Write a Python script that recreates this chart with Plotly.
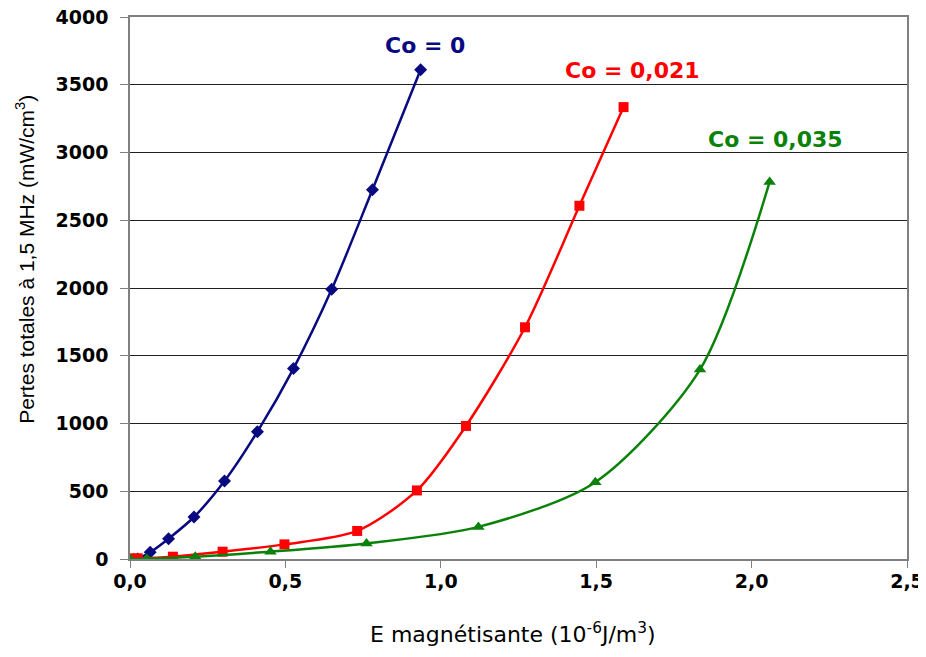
"""
Pertes totales vs E magnétisante — three Co contents, smoothed lines
"""
import plotly.graph_objects as go

# Co = 0
co0_x = [0.025, 0.065, 0.124, 0.206, 0.304, 0.410, 0.526, 0.649, 0.780, 0.935]
co0_y = [0, 50, 150, 310, 575, 940, 1405, 1990, 2725, 3610]

# Co = 0,021
co21_x = [0.0, 0.025, 0.138, 0.298, 0.497, 0.731, 0.923, 1.081, 1.271, 1.446, 1.588]
co21_y = [5, 5, 17, 54, 108, 207, 506, 982, 1710, 2607, 3335]

# Co = 0,035
co35_x = [0.0, 0.054, 0.21, 0.452, 0.761, 1.121, 1.497, 1.834, 2.058]
co35_y = [0, 2, 17, 54, 115, 237, 567, 1398, 2783]

x_ticks = [0.0, 0.5, 1.0, 1.5, 2.0, 2.5]
x_tick_labels = ["0,0", "0,5", "1,0", "1,5", "2,0", "2,5"]
y_ticks = [0, 500, 1000, 1500, 2000, 2500, 3000, 3500, 4000]
y_tick_labels = ["0", "500", "1000", "1500", "2000", "2500", "3000", "3500", "4000"]

BLUE = "#0a0a80"
RED = "#ff0000"
GREEN = "#0a820a"
WIDE = "DejaVu Sans, Liberation Sans, sans-serif"
NARROW = "Liberation Sans, Arial, sans-serif"

fig = go.Figure()

fig.add_trace(go.Scatter(
    x=co0_x, y=co0_y, mode="lines+markers", name="Co = 0",
    line=dict(color=BLUE, width=2.5, shape="spline", smoothing=0.8),
    marker=dict(symbol="diamond", size=10, color=BLUE),
))
fig.add_trace(go.Scatter(
    x=co21_x, y=co21_y, mode="lines+markers", name="Co = 0,021",
    line=dict(color=RED, width=2.5, shape="spline", smoothing=0.8),
    marker=dict(symbol="square", size=10, color=RED),
))
fig.add_trace(go.Scatter(
    x=co35_x, y=co35_y, mode="lines+markers", name="Co = 0,035",
    line=dict(color=GREEN, width=2.5, shape="spline", smoothing=0.8),
    marker=dict(symbol="triangle-up", size=11, color=GREEN),
))

# series labels
labels = [
    ("Co = 0", 0.95, 3789, BLUE),
    ("Co = 0,021", 1.616, 3606, RED),
    ("Co = 0,035", 2.076, 3093, GREEN),
]
for text, x, y, color in labels:
    fig.add_annotation(
        x=x, y=y, text=text, showarrow=False,
        font=dict(family=WIDE, size=22, color=color, weight="bold"),
    )

# axis titles
fig.add_annotation(
    xref="paper", yref="paper", x=0.493, y=0, yshift=-74,
    xanchor="center", yanchor="middle",
    text="E magnétisante (10<sup>-6</sup>J/m<sup>3</sup>)", showarrow=False,
    font=dict(family=WIDE, size=22, color="black"),
)
fig.add_annotation(
    xref="paper", yref="paper", x=0, y=0.552, xshift=-105, textangle=-90,
    xanchor="center", yanchor="middle",
    text="Pertes totales à 1,5 MHz (mW/cm<sup>3</sup>)", showarrow=False,
    font=dict(family=NARROW, size=21, color="black"),
)

# page body adds an 8px offset, so the figure is drawn 8px smaller
fig.update_layout(
    width=918, height=649,
    margin=dict(l=122, r=19, t=9, b=98),
    plot_bgcolor="white", paper_bgcolor="white",
    showlegend=False,
)
fig.update_xaxes(
    range=[0, 2.5], tickvals=x_ticks, ticktext=x_tick_labels,
    showgrid=False, zeroline=False, automargin=False,
    showline=True, linecolor="#808080", linewidth=1.5, mirror=True,
    ticks="outside", ticklen=7, tickcolor="#808080", ticklabelstandoff=-3,
    ticklabeloverflow="allow",
    tickfont=dict(family=WIDE, size=19, color="black", weight="bold"),
)
fig.update_yaxes(
    range=[0, 4000], tickvals=y_ticks, ticktext=y_tick_labels,
    showgrid=True, gridcolor="#202020", gridwidth=1, zeroline=False, automargin=False,
    showline=True, linecolor="#808080", linewidth=1.5, mirror=True,
    ticks="outside", ticklen=8, tickcolor="#808080", ticklabelstandoff=8,
    ticklabeloverflow="allow",
    tickfont=dict(family=WIDE, size=19, color="black", weight="bold"),
)

fig.write_html("out.html")
